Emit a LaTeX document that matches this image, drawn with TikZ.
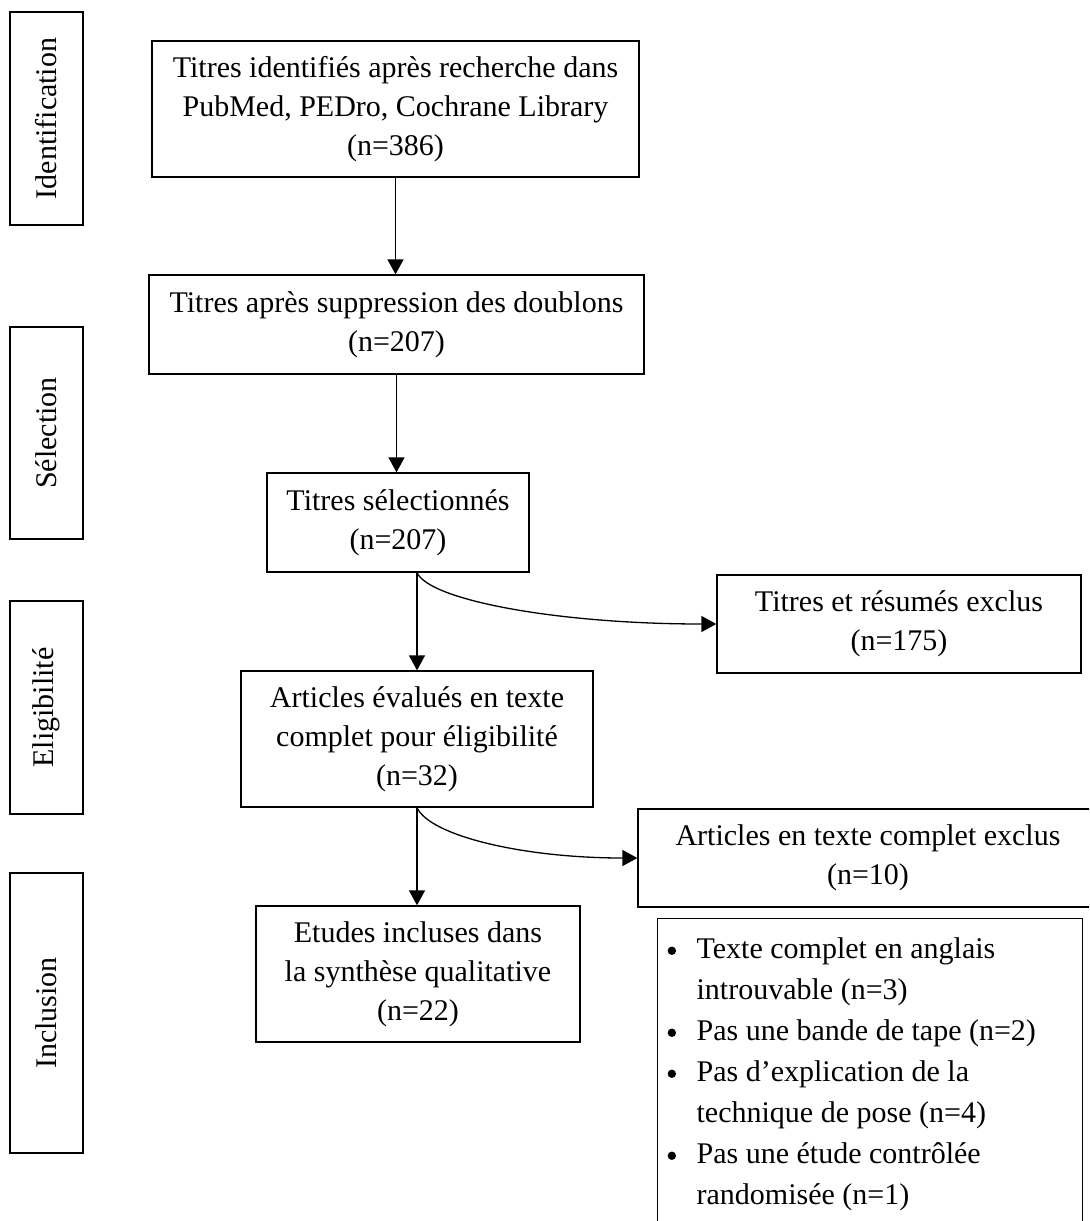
\documentclass[tikz,border=0pt]{standalone}
\usepackage{fontspec}
\setmainfont{Liberation Serif}
\usetikzlibrary{arrows.meta,calc}
\newcommand{\mybul}{\makebox[14.5pt][l]{\tikz[baseline=0pt,x=1pt,y=1pt]\fill (2,3.9) circle (2.1);}}
\begin{document}
\begin{tikzpicture}[x=0.5pt,y=-0.5pt,
  every node/.style={font=\fontsize{15}{19.5}\selectfont},
  box/.style={draw,line width=0.65pt,inner sep=0pt,align=center},
  phase/.style={draw,line width=0.65pt,inner sep=0pt,rotate=90,minimum height=36.5pt},
  conn/.style={line width=0.65pt,-{Triangle[length=7.5pt,width=8pt]}}]
\useasboundingbox (0,0) rectangle (1089,1221);
\clip (0,0) rectangle (1089,1221);
% phase labels
\node[phase,minimum width=106.5pt] (id)  at (46.5,118.5) {Identification};
\node[phase,minimum width=106pt]   (sel) at (46.5,433)   {Sélection};
\node[phase,minimum width=106.5pt] (eli) at (46.5,707.5) {Eligibilité};
\node[phase,minimum width=140pt]   (inc) at (46.5,1013)  {Inclusion};
% main boxes
\node[box,minimum width=243.5pt,minimum height=68pt] (b1) at (395.5,109)
  {Titres identifiés après recherche dans\\PubMed, PEDro, Cochrane Library\\(n=386)};
\node[box,minimum width=247.5pt,minimum height=49.5pt] (b2) at (396.5,324.5)
  {Titres après suppression des doublons\\(n=207)};
\node[box,minimum width=131pt,minimum height=49.5pt] (b3) at (398,522.5)
  {Titres sélectionnés\\(n=207)};
\node[box,minimum width=176pt,minimum height=68pt] (b4) at (417,739)
  {Articles évalués en texte\\complet pour éligibilité\\(n=32)};
\node[box,minimum width=162pt,minimum height=68pt] (b5) at (418,974)
  {Etudes incluses dans\\la synthèse qualitative\\(n=22)};
\node[box,minimum width=182pt,minimum height=49pt] (e1) at (899,624)
  {Titres et résumés exclus\\(n=175)};
\node[box,minimum width=230pt,minimum height=49pt] (e2) at (868,858)
  {Articles en texte complet exclus\\(n=10)};
% list of reasons
\node[draw,line width=0.65pt,inner sep=0pt,anchor=north west] (lst) at (657,918)
  {\parbox[t][161pt][t]{212.5pt}{\fontsize{15}{20.5}\selectfont\vspace{5.6pt}\hspace*{5pt}%
   \begin{tabular}{@{}l@{}l@{}}
   \mybul & Texte complet en anglais\\
   & introuvable (n=3)\\
   \mybul & Pas une bande de tape (n=2)\\
   \mybul & Pas d’explication de la\\
   & technique de pose (n=4)\\
   \mybul & Pas une étude contrôlée\\
   & randomisée (n=1)
   \end{tabular}}};
% connectors
\draw[conn] (b1.south) -- (b1.south |- b2.north);
\draw[conn] (b2.south) -- (b2.south |- b3.north);
\draw[conn] (b3.south -| b4.north) -- (b4.north);
\draw[conn] (b4.south) -- (b4.south |- b5.north);
\draw[conn] (b3.south -| b4.north) .. controls ($(b3.south -| b4.north)+(13,28)$) and ($(e1.west)+(-157,0)$) .. (e1.west);
\draw[conn] (b4.south) .. controls ($(b4.south)+(13,28)$) and ($(e2.west)+(-115,0)$) .. (e2.west);
\end{tikzpicture}
\end{document}
